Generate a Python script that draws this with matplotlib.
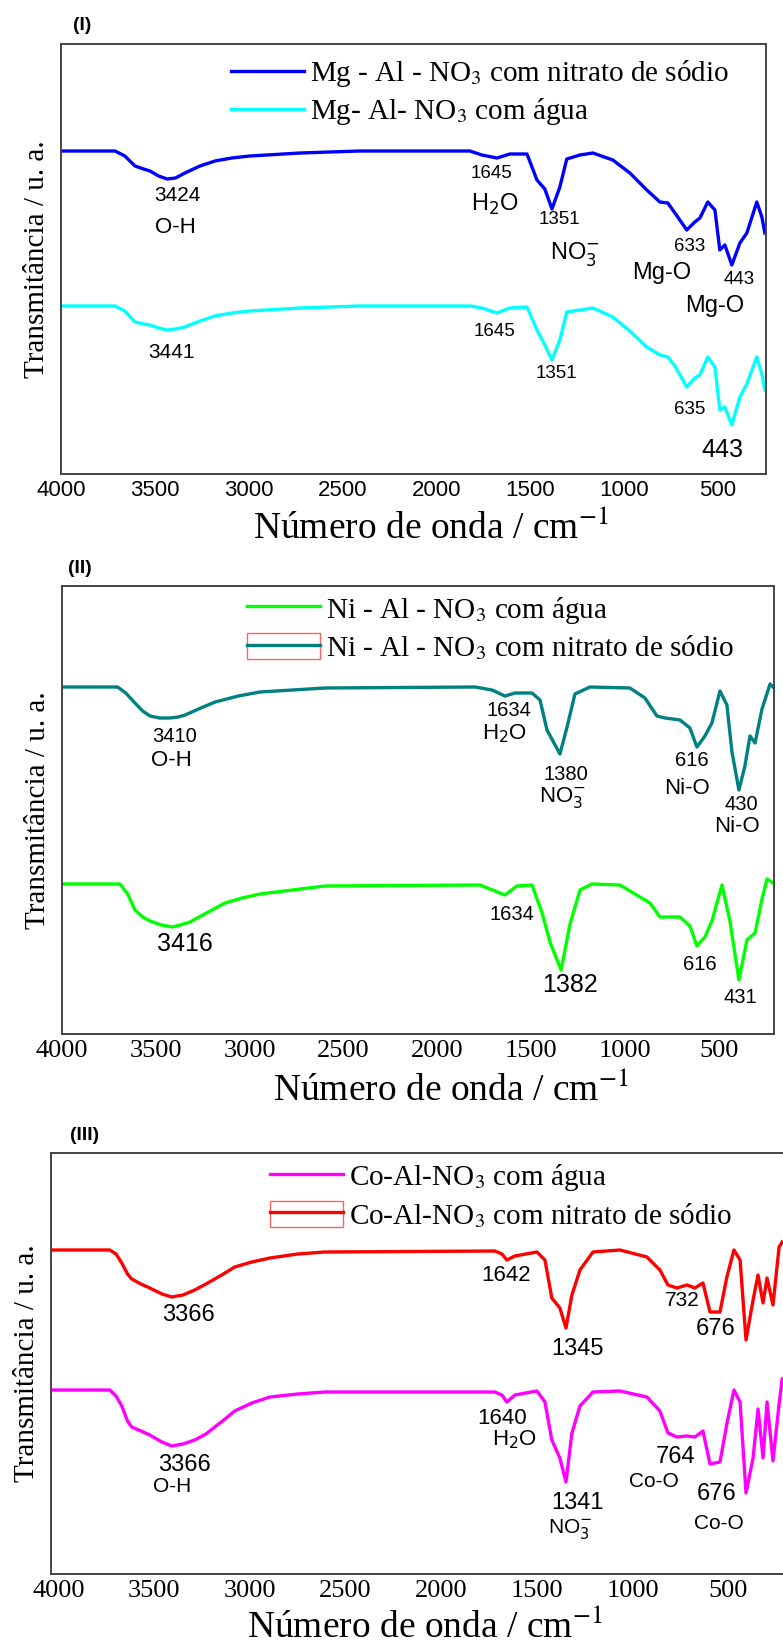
import numpy as np
import matplotlib.pyplot as plt
from matplotlib.patches import Rectangle
from matplotlib.lines import Line2D
from matplotlib.legend_handler import HandlerTuple

plt.rcParams['font.family'] = ['Liberation Sans', 'DejaVu Sans']
plt.rcParams['mathtext.fontset'] = 'stix'

SERIF = ['Liberation Serif', 'DejaVu Serif']
SANS = ['Liberation Sans', 'DejaVu Sans']

# ---- (I) Mg-Al-NO3 ----
mg_wn = [4000, 3712, 3660, 3606, 3560, 3526, 3480, 3435, 3390, 3340,
         3260, 3180, 3090, 2994, 2727, 2408, 1822, 1758, 1678, 1609,
         1518, 1465, 1423, 1385, 1343, 1306, 1236, 1167, 1061, 970,
         880, 810, 768, 730, 667, 624, 597, 555, 517, 491,
         464, 427, 384, 347, 294, 267, 251]
mg_nitrato = [323, 323, 318, 308, 305, 303, 298, 295, 296, 301,
              308, 313, 316, 318, 321, 323, 323, 319, 316, 320,
              320, 294, 285, 265, 287, 315, 319, 321, 314, 301,
              284, 272, 271, 261, 244, 252, 256, 272, 264, 224,
              229, 209, 231, 241, 272, 257, 241]
mg_agua = [168, 168, 163, 152, 150, 149, 146, 144, 145, 147,
           153, 158, 161, 163, 166, 168, 168, 166, 161, 166,
           167, 144, 129, 114, 134, 162, 164, 166, 157, 143,
           127, 119, 117, 108, 87, 96, 99, 117, 107, 64,
           67, 49, 77, 90, 117, 100, 84]
mg_labels = ['3424', 'O-H', '1645', 'H$_2$O', '1351', 'NO$_3^{-}$', '633', 'Mg-O', '443', 'Mg-O',
             '3441', '1645', '1351', '635', '443']
mg_lx = [3382, 3393, 1705, 1689, 1343, 1263, 651, 800, 390, 517,
         3409, 1689, 1359, 651, 480]
mg_ly = [278, 246, 300, 270, 254, 220, 227, 201, 195, 168,
         121, 142, 101, 64, 24]
mg_ls = [15, 16, 13.5, 17, 13.5, 17, 13.5, 17, 13.5, 17,
         15, 13.5, 13.5, 13.5, 18]

# ---- (II) Ni-Al-NO3 ----
ni_wn_nitrato = [4000, 3704, 3660, 3611, 3570, 3531, 3480, 3424, 3380, 3344,
                 3260, 3184, 3060, 2945, 2598, 1799, 1708, 1639, 1585, 1495,
                 1452, 1415, 1346, 1308, 1266, 1186, 973, 893, 829, 786,
                 706, 653, 616, 573, 536, 493, 456, 429, 392, 360,
                 333, 306, 269, 226, 210]
ni_nitrato = [347, 347, 341, 331, 323, 318, 316, 316, 317, 319,
              326, 332, 338, 342, 346, 347, 344, 338, 341, 341,
              334, 304, 280, 307, 340, 347, 346, 336, 318, 316,
              314, 306, 287, 298, 311, 343, 329, 282, 244, 268,
              298, 291, 325, 350, 347]
ni_wn_agua = [4000, 3691, 3650, 3611, 3570, 3531, 3470, 3413, 3370, 3318,
              3230, 3131, 3040, 2945, 2598, 1772, 1639, 1575, 1495, 1441,
              1399, 1340, 1292, 1239, 1175, 1026, 866, 813, 706, 653,
              616, 573, 536, 482, 440, 392, 349, 306, 269, 242,
              210]
ni_agua = [150, 150, 140, 124, 117, 113, 109, 107, 109, 112,
           121, 131, 136, 140, 148, 149, 139, 148, 149, 121,
           92, 64, 110, 144, 150, 149, 131, 117, 117, 108,
           88, 97, 113, 149, 113, 54, 94, 101, 135, 155,
           151]
ni_labels = ['3410', 'O-H', '1634', 'H$_2$O', '1380', 'NO$_3^{-}$', '616', 'Ni-O', '430', 'Ni-O',
             '3416', '1634', '1382', '616', '431']
ni_lx = [3398, 3419, 1617, 1644, 1314, 1335, 642, 669, 381, 402,
         3344, 1601, 1292, 599, 386]
ni_ly = [297, 274, 324, 300, 260, 237, 274, 246, 230, 208,
         90, 120, 49, 70, 37]
ni_ls = [14.5, 16, 14.5, 16, 14.5, 16, 14.5, 16, 14.5, 16,
         18, 14.5, 18, 14.5, 14.5]

# ---- (III) Co-Al-NO3 ----
co_wn = [4040, 3733, 3700, 3670, 3640, 3618, 3570, 3524, 3460, 3409,
         3350, 3289, 3230, 3184, 3130, 3080, 2990, 2896, 2750, 2609,
         1720, 1683, 1657, 1615, 1500, 1458, 1422, 1380, 1348, 1317,
         1275, 1207, 1066, 925, 857, 815, 768, 716, 674, 632,
         595, 543, 507, 470, 438, 407, 370, 344, 318, 297,
         266, 234, 218]
co_nitrato = [324, 324, 320, 311, 300, 295, 290, 286, 280, 277,
              279, 284, 290, 295, 301, 307, 312, 316, 320, 322,
              323, 320, 314, 318, 322, 314, 276, 266, 246, 279,
              304, 322, 324, 317, 304, 289, 286, 289, 286, 291,
              262, 262, 297, 324, 314, 234, 274, 299, 271, 296,
              269, 327, 332]
co_agua = [184, 184, 178, 168, 153, 147, 143, 139, 132, 128,
           130, 134, 140, 147, 155, 163, 171, 177, 180, 182,
           182, 179, 172, 179, 183, 172, 134, 116, 92, 141,
           168, 182, 183, 177, 163, 141, 137, 138, 137, 143,
           110, 112, 150, 184, 172, 81, 116, 165, 116, 172,
           113, 170, 195]
co_labels = ['3366', '1642', '1345', '732', '676',
             '3366', 'O-H', '1640', 'H$_2$O', '1341', 'NO$_3^{-}$', '764', 'Co-O', '676', 'Co-O']
co_lx = [3320, 1662, 1286, 742, 564,
         3341, 3409, 1683, 1615, 1286, 1327, 773, 888, 559, 548]
co_ly = [259, 299, 225, 274, 245,
         109, 88, 156, 134, 71, 45, 117, 93, 80, 51]
co_ls = [17, 16, 17, 15, 17,
         17, 15, 16, 16, 17, 15, 17, 15, 17, 15]

W, H = 783, 1644
fig = plt.figure(figsize=(W / 100, H / 100), dpi=100)


def add_panel(left, right, top, bottom):
    return fig.add_axes([left / W, 1 - bottom / H, (right - left) / W, (bottom - top) / H])


def style(ax, xlim, ylim, tick_family, tick_size, xlabel_x):
    ax.set_xlim(*xlim)
    ax.set_ylim(*ylim)
    ax.set_xticks([4000, 3500, 3000, 2500, 2000, 1500, 1000, 500])
    ax.set_yticks([])
    ax.tick_params(axis='x', length=0, pad=4)
    for t in ax.get_xticklabels():
        t.set_family(tick_family)
        t.set_fontsize(tick_size)
    for s in ax.spines.values():
        s.set_color('#444444')
        s.set_linewidth(1.4)
    ax.set_xlabel('Número de onda / cm$^{-1}$', family=SERIF, fontsize=27)
    ax.xaxis.set_label_coords(xlabel_x, -0.085)
    ax.set_ylabel('Transmitância / u. a.', family=SERIF, fontsize=21, labelpad=8)


def annotate(ax, labels, xs, ys, sizes):
    for lab, x, y, s in zip(labels, xs, ys, sizes):
        ax.text(x, y, lab, ha='center', va='center', fontsize=s, family=SANS,
                math_fontfamily='dejavusans')


leg_kw = dict(loc='upper left', frameon=False, borderaxespad=0, borderpad=0,
              handlelength=2.5, handletextpad=0.22, labelspacing=0.25,
              prop={'family': SERIF, 'size': 21})
line_kw = dict(lw=2.4, solid_joinstyle='round')

# (I)
ax1 = add_panel(61, 766, 44, 474)
l1, = ax1.plot(mg_wn, mg_nitrato, color='#0000FF', **line_kw)
l2, = ax1.plot(mg_wn, mg_agua, color='#00FFFF', **line_kw)
style(ax1, (4000, 245), (0, 430), SANS, 16, 0.525)
annotate(ax1, mg_labels, mg_lx, mg_ly, mg_ls)
ax1.legend([l1, l2], ['Mg - Al - NO$_3$ com nitrato de sódio', 'Mg- Al- NO$_3$ com água'],
           bbox_to_anchor=(0.241, 0.968), **leg_kw)
fig.text(82 / W, 1 - 26 / H, '(I)', fontsize=14, fontweight='bold', ha='center', va='center')

# (II)
ax2 = add_panel(62, 774, 586, 1034)
l3, = ax2.plot(ni_wn_agua, ni_agua, color='#00FF00', **line_kw)
l4, = ax2.plot(ni_wn_nitrato, ni_nitrato, color='#008080', **line_kw)
style(ax2, (4000, 205), (0, 448), SERIF, 19, 0.546)
annotate(ax2, ni_labels, ni_lx, ni_ly, ni_ls)
box2 = Rectangle((0, 0), 1, 1, facecolor='none', edgecolor='#FF6060', lw=1.0)
ax2.legend([l3, (box2, l4)], ['Ni - Al - NO$_3$ com água', 'Ni - Al - NO$_3$ com nitrato de sódio'],
           handler_map={tuple: HandlerTuple(ndivide=1)}, handleheight=1.0,
           bbox_to_anchor=(0.26, 0.98), **leg_kw)
fig.text(80 / W, 1 - 568 / H, '(II)', fontsize=14, fontweight='bold', ha='center', va='center')

# (III)
ax3 = add_panel(51, 790, 1153, 1574)
l5, = ax3.plot(co_wn, co_agua, color='#FF00FF', **line_kw)
l6, = ax3.plot(co_wn, co_nitrato, color='#FF0000', **line_kw)
style(ax3, (4040, 177), (0, 421), SERIF, 19, 0.506)
annotate(ax3, co_labels, co_lx, co_ly, co_ls)
box3 = Rectangle((0, 0), 1, 1, facecolor='none', edgecolor='#FF6060', lw=1.0)
ax3.legend([l5, (box3, l6)], ['Co-Al-NO$_3$ com água', 'Co-Al-NO$_3$ com nitrato de sódio'],
           handler_map={tuple: HandlerTuple(ndivide=1)}, handleheight=1.0,
           bbox_to_anchor=(0.296, 0.978), **leg_kw)
fig.text(85 / W, 1 - 1135 / H, '(III)', fontsize=14, fontweight='bold', ha='center', va='center')

fig.savefig('out.png', dpi=100)
